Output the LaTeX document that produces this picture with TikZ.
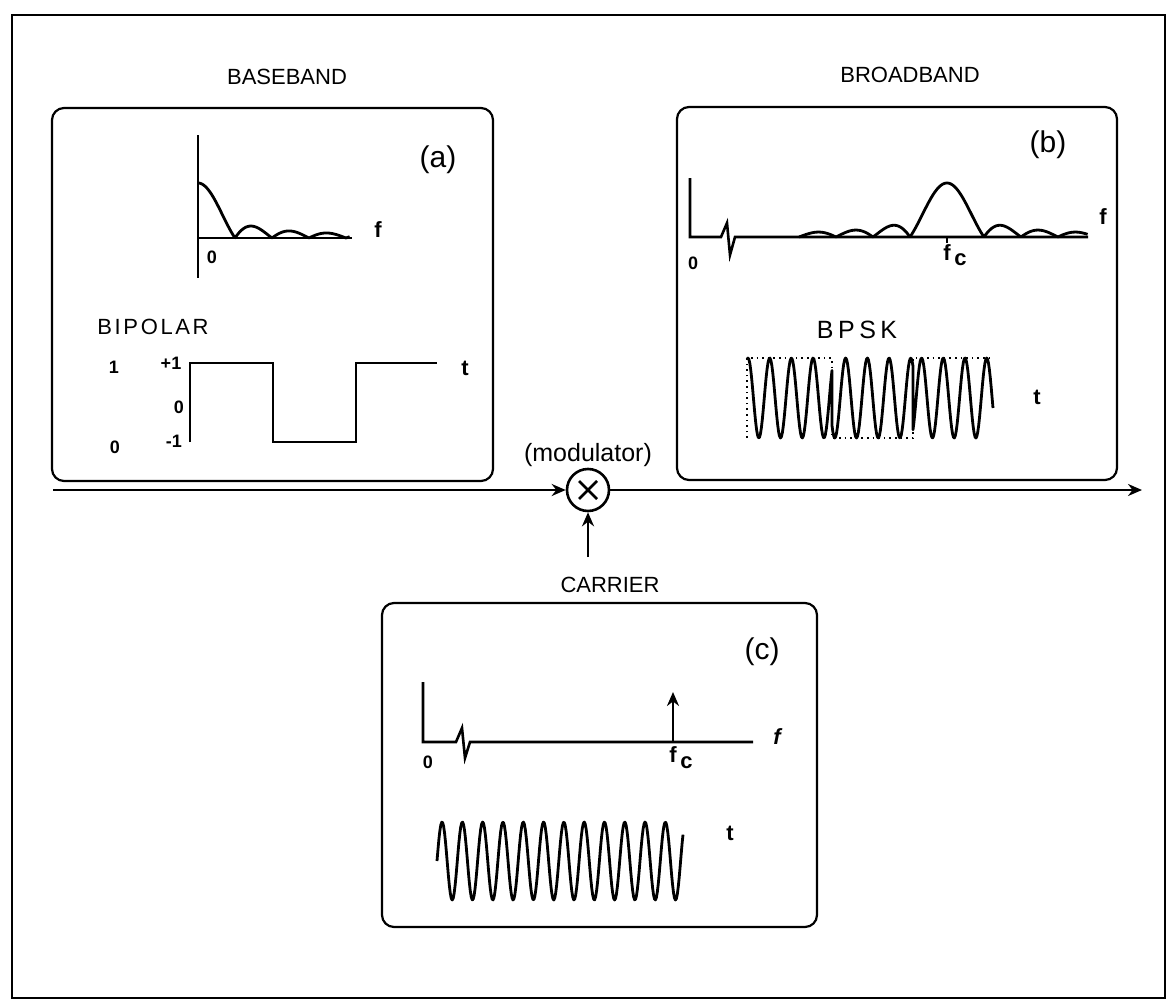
\documentclass[tikz,border=0pt]{standalone}
\usepackage{fontspec}
\setmainfont{Liberation Sans}
\usetikzlibrary{arrows.meta,calc}
\begin{document}
\begin{tikzpicture}[x=0.5pt,y=-0.5pt,
  panel/.style={draw, line width=1.1pt, rounded corners=6pt},
  axisline/.style={line width=1.3pt, line join=miter},
  sigline/.style={line width=1.4pt, line join=round},
  title/.style={inner sep=0pt, font=\fontsize{11}{13}\selectfont},
  tag/.style={inner sep=0pt, font=\fontsize{15}{17}\selectfont},
  var/.style={inner sep=0pt, font=\fontsize{11}{13}\selectfont\bfseries},
  num/.style={inner sep=0pt, font=\fontsize{9}{11}\selectfont\bfseries},
  spaced/.style={inner sep=0pt, font=\fontsize{11}{13}\selectfont\addfontfeatures{LetterSpace=12}},
  conn/.style={line width=1.3pt, -{Stealth[length=7pt,width=6pt]}},
]
\useasboundingbox (0,0) rectangle (1168,1001);
\draw[line width=1.3pt] (12,15) rectangle (1165,998);

% panels
\draw[panel] (52,108) rectangle (493,481);
\draw[panel] (677,107) rectangle (1117,480);
\draw[panel] (382,603) rectangle (817,927);

% titles
\node[title] (tbase) at (287,77) {BASEBAND};
\node[title] (tbroad) at (910,75) {BROADBAND};
\node[title] (tcarr) at (610,585) {CARRIER};
\node[inner sep=0pt, font=\fontsize{12.5}{14}\selectfont] (tmod) at (588,455) {(modulator)};

% ---------- panel (a)
\node[tag] (ta) at (438,160) {(a)};
\draw[axisline] (198,135) -- (198,278);
\draw[axisline] (198,238) -- (352,238);
\draw[sigline] plot[domain=0.001:4.1, samples=160] ({198+37*\x},{238-55*abs(sin(180*\x)/(3.14159*\x))});
\node[var] (fa) at (378,230) {f};
\node[num] (za) at (212,257) {0};
\node[spaced] (bip) at (153,327) {BIPOLAR};
\draw[sigline, line join=miter] (190,442) -- (190,363) -- (273,363) -- (273,442) -- (356,442) -- (356,363) -- (437,363);
\node[num] (l1) at (114,367) {1};
\node[num] (l0) at (115,447) {0};
\node[num] (lp1) at (171,363) {+1};
\node[num] (lz) at (179,407) {0};
\node[num] (lm1) at (174,441) {-1};
\node[var] (ta2) at (465,368) {t};

% ---------- panel (b)
\node[tag] (tb) at (1048,145) {(b)};
\draw[axisline] (690,178) -- (690,237) -- (721,237) -- (727,223) -- (730,255) -- (735,237) -- (1088,237);
\draw[sigline] plot[domain=-4:3.8, samples=220] ({947+37*\x},{237-54*abs(sin(180*(\x+0.0007))/(3.14159*(\x+0.0007)))});
\draw[line width=1pt] (947,237) -- (947,243);
\node[var] (fb) at (1103,217) {f};
\node[num] (zb) at (693,263) {0};
\node[var, anchor=base west] (fcb) at (943,260) {f\,\raisebox{-2.5pt}{c}};
\node[spaced, font=\fontsize{12.5}{14}\selectfont\addfontfeatures{LetterSpace=18}] (bpsk) at (857,330) {BPSK};
\draw[dotted, line width=0.8pt] (747,438) -- (747,358) -- (832,358) -- (832,438) -- (913,438) -- (913,358) -- (993,358);
\draw[sigline] plot[domain=747:832, samples=90] (\x,{398-40*cos(((\x-748)/21.7)*360)})
  -- plot[domain=832:913, samples=90] (\x,{398+40*cos(((\x-748)/21.7)*360)})
  -- plot[domain=913:993, samples=90] (\x,{398-40*cos(((\x-748)/21.7)*360)});
\node[var] (tb2) at (1037,397) {t};

% ---------- panel (c)
\node[tag] (tc) at (762,652) {(c)};
\draw[axisline] (423,682) -- (423,742) -- (456,742) -- (462,728) -- (465,758) -- (470,742) -- (753,742);
\draw[line width=1.3pt, -{Stealth[length=7pt,width=6pt]}] (673,742) -- (673,692);
\node[var, font=\fontsize{11}{13}\selectfont\bfseries\itshape] (fc) at (777,737) {f};
\node[num] (zc) at (428,762) {0};
\node[var, anchor=base west] (fcc) at (669,762) {f\,\raisebox{-3pt}{c}};
\draw[sigline] plot[domain=437:683, samples=260] (\x,{861-39*sin(((\x-437)/20.3)*360)});
\node[var] (tc2) at (730,833) {t};

% ---------- modulator
\node[draw, circle, line width=1.3pt, minimum size=21pt, inner sep=0pt] (mod) at (588,490) {};
\draw[line width=1.3pt] ($(mod.center)+(-9,-9)$) -- ($(mod.center)+(9,9)$);
\draw[line width=1.3pt] ($(mod.center)+(-9,9)$) -- ($(mod.center)+(9,-9)$);
\coordinate (in) at (53,490);
\coordinate (out) at (1142,490);
\coordinate (car) at (588,557);
\draw[conn] (in) -- (mod.west);
\draw[conn] (mod.east) -- (out);
\draw[conn] (car) -- (mod.south);
\end{tikzpicture}
\end{document}
